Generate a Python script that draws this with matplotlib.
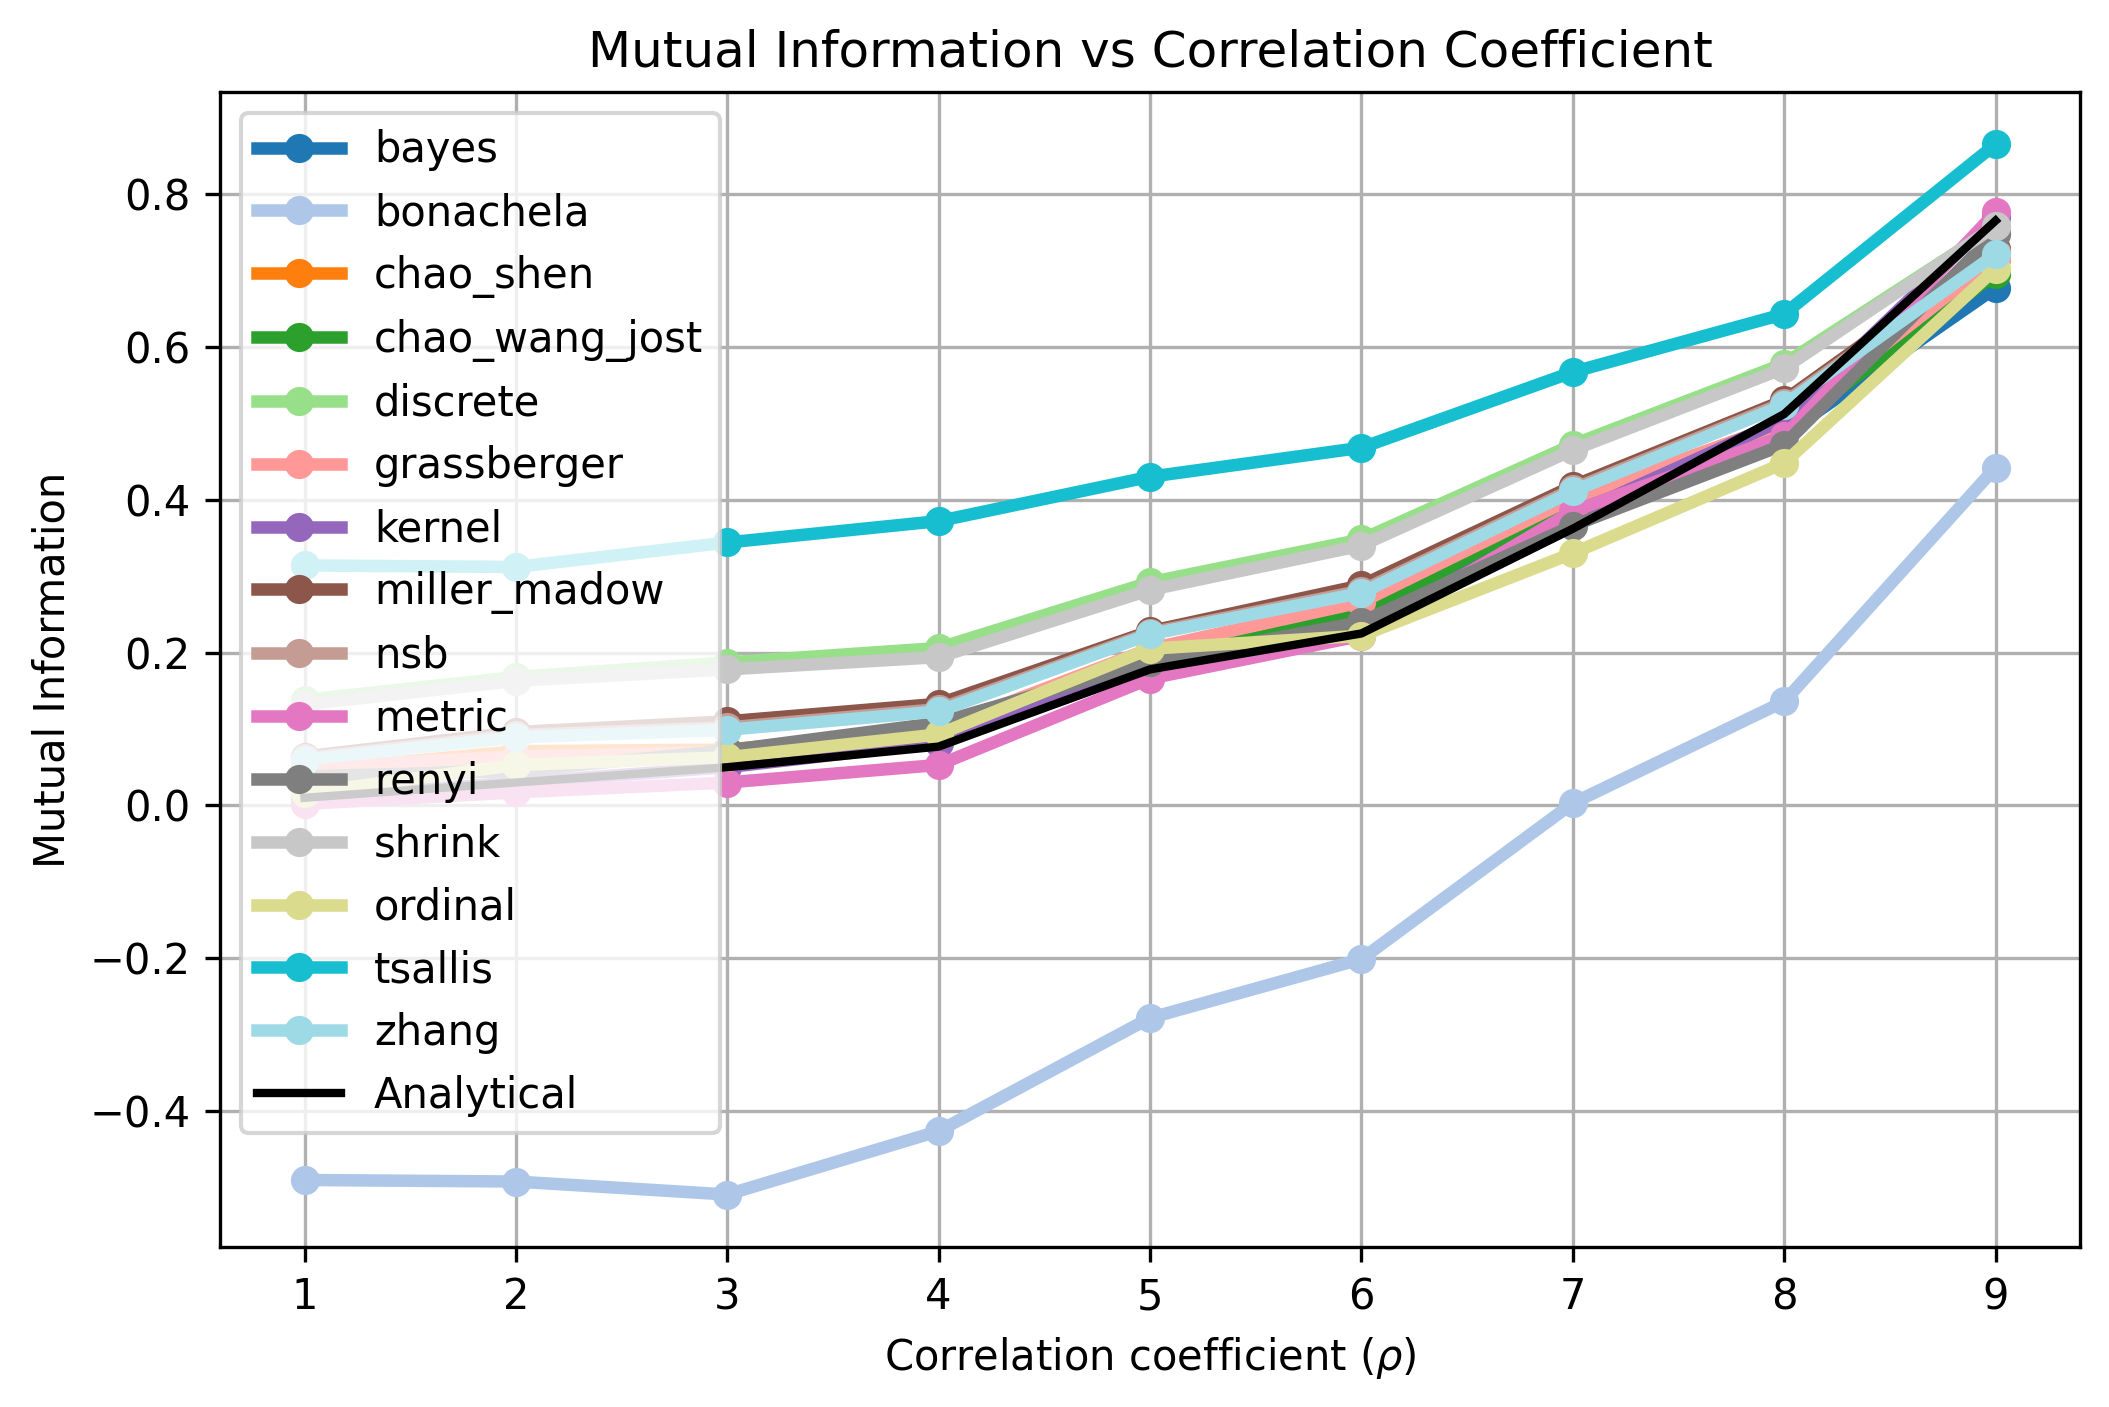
import numpy as np
import matplotlib.pyplot as plt

# correlation coefficient index
rho = [1, 2, 3, 4, 5, 6, 7, 8, 9]

# estimates
bayes = [0.045, 0.065, 0.070, 0.097, 0.198, 0.255, 0.390, 0.485, 0.677]
bonachela = [-0.490, -0.492, -0.509, -0.426, -0.278, -0.201, 0.003, 0.136, 0.442]
chao_shen = [0.045, 0.071, 0.073, 0.099, 0.200, 0.265, 0.400, 0.500, 0.715]
chao_wang_jost = [0.040, 0.060, 0.068, 0.095, 0.195, 0.252, 0.393, 0.491, 0.695]
discrete = [0.138, 0.168, 0.187, 0.206, 0.292, 0.348, 0.472, 0.578, 0.757]
grassberger = [0.050, 0.064, 0.070, 0.100, 0.205, 0.266, 0.402, 0.500, 0.716]
kernel = [0.010, 0.030, 0.050, 0.082, 0.180, 0.230, 0.380, 0.505, 0.770]
miller_madow = [0.064, 0.096, 0.110, 0.133, 0.228, 0.288, 0.418, 0.530, 0.728]
nsb = [0.062, 0.092, 0.102, 0.126, 0.226, 0.281, 0.414, 0.527, 0.724]
metric = [0.002, 0.017, 0.030, 0.053, 0.166, 0.222, 0.385, 0.483, 0.776]
renyi = [0.038, 0.045, 0.072, 0.108, 0.188, 0.240, 0.366, 0.472, 0.748]
shrink = [0.132, 0.163, 0.178, 0.194, 0.282, 0.340, 0.465, 0.572, 0.758]
ordinal = [0.016, 0.053, 0.063, 0.093, 0.205, 0.222, 0.330, 0.448, 0.702]
tsallis = [0.314, 0.312, 0.344, 0.372, 0.430, 0.468, 0.567, 0.643, 0.865]
zhang = [0.060, 0.089, 0.099, 0.123, 0.224, 0.278, 0.411, 0.524, 0.721]
analytical = [0.010, 0.030, 0.050, 0.077, 0.178, 0.225, 0.362, 0.512, 0.765]

names = ["bayes", "bonachela", "chao_shen", "chao_wang_jost", "discrete",
         "grassberger", "kernel", "miller_madow", "nsb", "metric", "renyi",
         "shrink", "ordinal", "tsallis", "zhang"]
series = [bayes, bonachela, chao_shen, chao_wang_jost, discrete,
          grassberger, kernel, miller_madow, nsb, metric, renyi,
          shrink, ordinal, tsallis, zhang]

colors = plt.cm.tab20(np.linspace(0, 1, len(names)))

fig = plt.figure(figsize=(7.03, 4.69), dpi=300)
for name, vals, c in zip(names, series, colors):
    plt.plot(rho, vals, "o-", color=c, linewidth=3, label=name)
plt.plot(rho, analytical, color="black", linewidth=2, label="Analytical")

plt.title("Mutual Information vs Correlation Coefficient")
plt.xlabel(r"Correlation coefficient ($\rho$)")
plt.ylabel("Mutual Information")
plt.grid(True)
plt.legend(loc="upper left")
plt.subplots_adjust(left=0.1043, right=0.9863, top=0.9348, bottom=0.1137)
plt.savefig("out.png", dpi=300)
